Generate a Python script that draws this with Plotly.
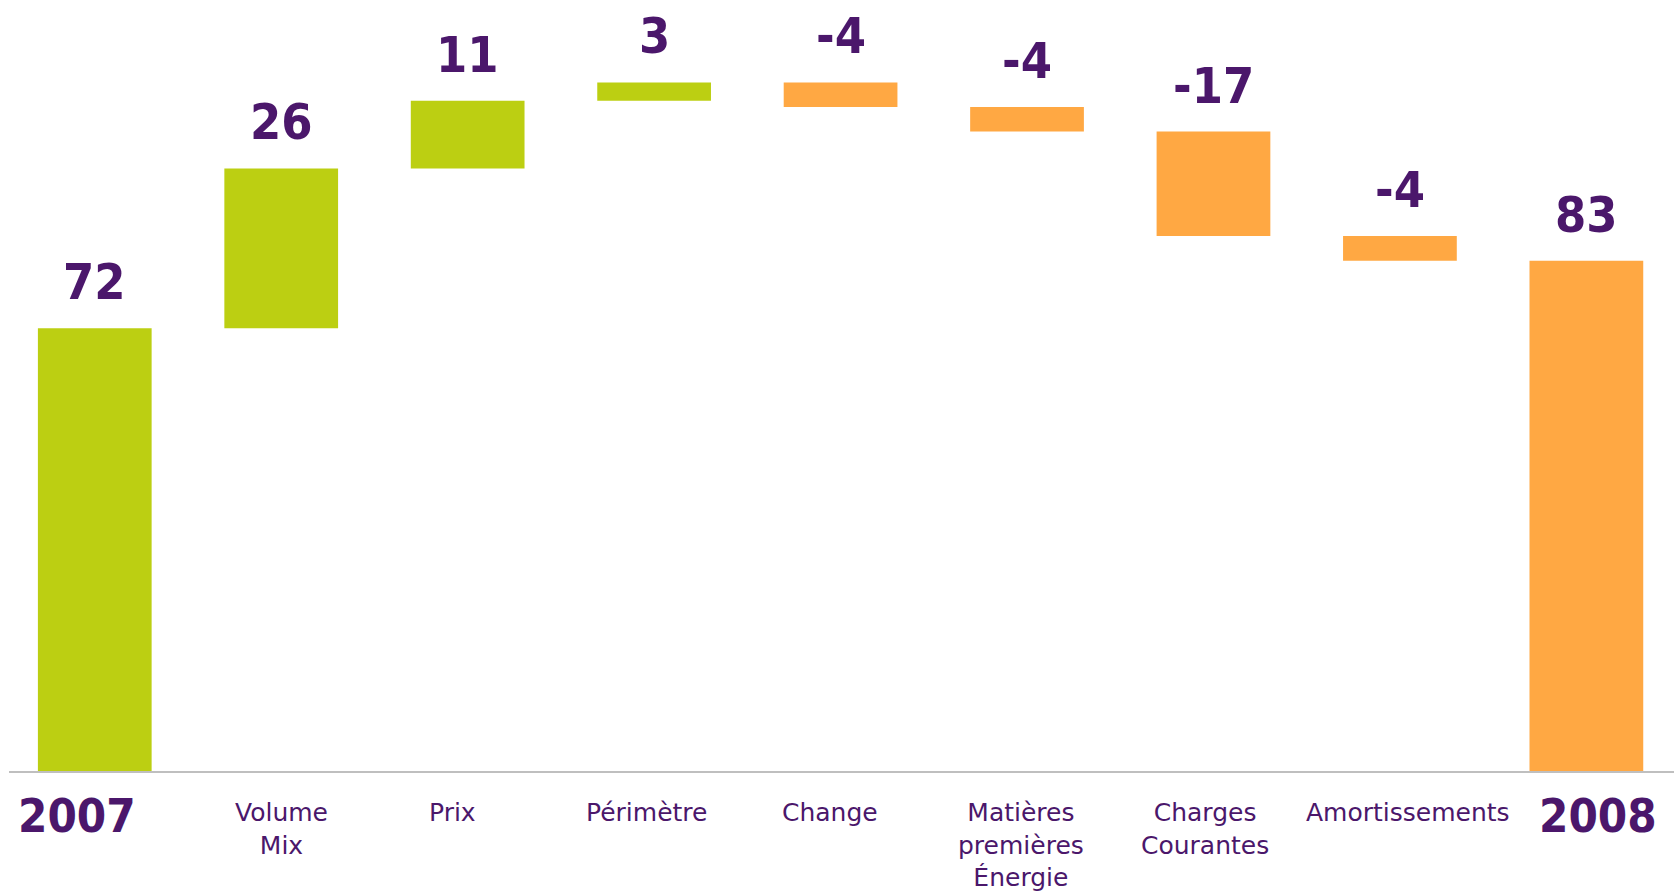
import plotly.graph_objects as go

# ---- data ----
categories = ["2007", "Volume<br>Mix", "Prix", "Périmètre", "Change",
              "Matières<br>premières<br>Énergie", "Charges<br>Courantes",
              "Amortissements", "2008"]
values = [72, 26, 11, 3, -4, -4, -17, -4, 83]
measures = ["total", "delta", "delta", "delta", "delta", "delta", "delta", "delta", "total"]
value_labels = ["72", "26", "11", "3", "-4", "-4", "-17", "-4", "83"]

# ---- styling ----
GREEN = "#BCCF12"
ORANGE = "#FFA843"
PURPLE = "#4B176B"
label_xshift = [-18, 0, -15, -8, -11, -6, -8, 8, 12]

bases, heights, colors = [], [], []
running = 0
for i, (v, m) in enumerate(zip(values, measures)):
    if m == "total":
        bases.append(0)
        heights.append(v)
        running = v
        colors.append(GREEN if i == 0 else ORANGE)
    else:
        if v >= 0:
            bases.append(running)
            heights.append(v)
            colors.append(GREEN)
        else:
            bases.append(running + v)
            heights.append(-v)
            colors.append(ORANGE)
        running += v

positions = list(range(len(categories)))

fig = go.Figure()
fig.add_trace(go.Bar(x=positions, y=heights, base=bases,
                     marker=dict(color=colors, line=dict(width=0)),
                     width=0.61, hoverinfo="skip"))

annotations = []
for i, cat in enumerate(categories):
    top = bases[i] + heights[i]
    annotations.append(dict(x=i, y=top, xref="x", yref="y", text="<b>" + value_labels[i] + "</b>",
                            showarrow=False, yanchor="bottom", yshift=15,
                            font=dict(family="DejaVu Sans Condensed", size=50, color=PURPLE)))
    if measures[i] == "total":
        annotations.append(dict(x=i, y=0, xref="x", yref="y", text="<b>" + cat + "</b>",
                                showarrow=False, yanchor="top", yshift=-15, xshift=label_xshift[i],
                                font=dict(family="DejaVu Sans Condensed", size=47, color=PURPLE)))
    else:
        annotations.append(dict(x=i, y=0, xref="x", yref="y", text=cat,
                                showarrow=False, yanchor="top", yshift=-25, xshift=label_xshift[i],
                                font=dict(family="DejaVu Sans", size=25, color=PURPLE)))

fig.update_layout(
    width=1674, height=893,
    margin=dict(l=9, r=0, t=0, b=122),
    paper_bgcolor="white", plot_bgcolor="white",
    showlegend=False,
    annotations=annotations,
    xaxis=dict(range=[-0.46, 8.47], showticklabels=False, ticks="",
               showgrid=False, zeroline=False, showline=True, linecolor="#BFBFBF", linewidth=2),
    yaxis=dict(range=[0, 125.4], visible=False, showgrid=False, zeroline=False),
)

fig.write_html("out.html", config={"displayModeBar": False},
               post_script="document.body.style.margin='0';")
